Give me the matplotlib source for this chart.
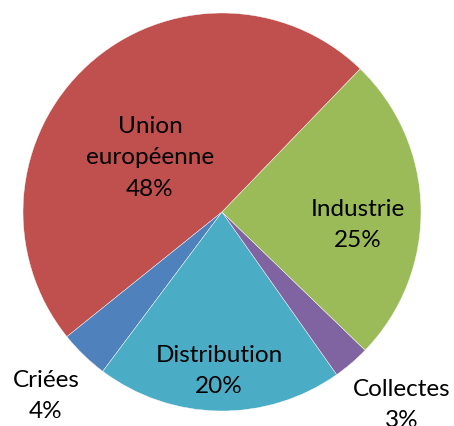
import numpy as np
import matplotlib
matplotlib.use("Agg")
import matplotlib.pyplot as plt

# =========================
# DONNÉES
# =========================
categories = ["Union\neuropéenne", "Criées", "Distribution", "Collectes", "Industrie"]
values = [48, 4, 20, 3, 25]
colors = ["#C0504D", "#4F81BD", "#4BACC6", "#8064A2", "#9BBB59"]
pct_labels = ["48%", "4%", "20%", "3%", "25%"]

# position des étiquettes (en pixels de la figure)
label_pos = [(150, 158), (46, 396), (219, 371), (402, 405), (358, 225)]

W, H = 454, 426
CX, CY, R = 222, 212, 199
START = 46

fig = plt.figure(figsize=(W / 100, H / 100), dpi=100)
ax = fig.add_axes([0, 0, 1, 1])

ax.pie(
    values,
    colors=colors,
    startangle=START,
    counterclock=True,
    center=(CX, H - CY),
    radius=R,
    wedgeprops={"linewidth": 0.3, "edgecolor": "white"},
    frame=True,
)
ax.set_xlim(0, W)
ax.set_ylim(0, H)
ax.axis("off")

for cat, pct, (px, py) in zip(categories, pct_labels, label_pos):
    ax.text(px, H - py, cat + "\n" + pct, ha="center", va="center",
            fontsize=17.5, family="Lato", color="black", linespacing=1.62)

plt.savefig("out.png", dpi=100)
